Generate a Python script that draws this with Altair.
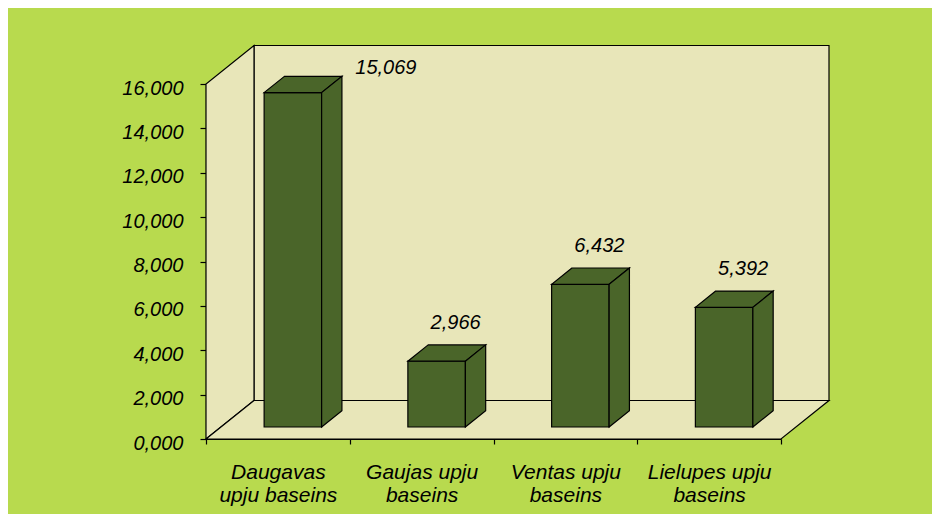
import json
import altair as alt
import pandas as pd

# ---- data ----
label_lines = [["Daugavas", "upju baseins"],
               ["Gaujas upju", "baseins"],
               ["Ventas upju", "baseins"],
               ["Lielupes upju", "baseins"]]
values = [15069, 2966, 6432, 5392]
y_ticks = [0, 2000, 4000, 6000, 8000, 10000, 12000, 14000, 16000]

# ---- styling / geometry constants (pixels, converted to data units) ----
W, H = 575, 355
N = len(values)
X_MAX, Y_MAX = N, y_ticks[-1]
kx, ky = X_MAX / W, Y_MAX / H
WALL_DX, WALL_DY = 48 * kx, 38.5 * ky
BAR_SHIFT_X, BAR_SHIFT_Y = 15 * kx, 12 * ky
BAR_DX, BAR_DY = 20.3 * kx, 16.3 * ky
BAR_HALF = 0.2

BG = "#b8da4e"
WALL = "#e8e6b9"
BAR = "#4a6529"
FONT = "Liberation Sans"

# ---- derived tables ----
back = pd.DataFrame({"x": [WALL_DX], "x2": [X_MAX + WALL_DX],
                     "y": [WALL_DY], "y2": [Y_MAX + WALL_DY]})
left_wall = pd.DataFrame({"g": [0, 0], "x": [0, WALL_DX],
                          "y": [0, WALL_DY], "y2": [Y_MAX, Y_MAX + WALL_DY]})
floor = pd.DataFrame({"g": [0, 0], "y": [0, WALL_DY],
                      "x": [0, WALL_DX], "x2": [X_MAX, X_MAX + WALL_DX]})

bars, tops, sides = [], [], []
for i, v in enumerate(values):
    cx = i + 0.5 + BAR_SHIFT_X
    x0, x1 = cx - BAR_HALF, cx + BAR_HALF
    y0, y1 = BAR_SHIFT_Y, v + BAR_SHIFT_Y
    bars.append({"i": i, "v": v, "cx": cx, "x0": x0, "x1": x1, "y0": y0, "y1": y1})
    tops += [{"g": i, "y": y1, "x": x0, "x2": x1},
             {"g": i, "y": y1 + BAR_DY, "x": x0 + BAR_DX, "x2": x1 + BAR_DX}]
    sides += [{"g": i, "x": x1, "y": y0, "y2": y1},
              {"g": i, "x": x1 + BAR_DX, "y": y0 + BAR_DY, "y2": y1 + BAR_DY}]
bars = pd.DataFrame(bars)
tops = pd.DataFrame(tops)
sides = pd.DataFrame(sides)

# ---- scales / axes ----
xs = alt.Scale(domain=[0, X_MAX], nice=False, zero=False)
ys = alt.Scale(domain=[0, Y_MAX], nice=False, zero=False)

x_expr = " : ".join(
    f"datum.value == {i + 0.5} ? {json.dumps(lines)}" for i, lines in enumerate(label_lines)
) + " : ''"

xaxis = alt.Axis(
    values=[k / 2 for k in range(2 * N + 1)],
    labelExpr=x_expr,
    tickOpacity={"condition": {"test": "datum.value % 1 != 0", "value": 0}, "value": 1},
    tickSize=5, tickColor="black", tickWidth=1.2,
    domainColor="black", domainWidth=1.2,
    labelPadding=17, labelLineHeight=23, labelBaseline="top",
    labelFont=FONT, labelFontStyle="italic", labelFontSize=21, labelColor="black",
    labelOverlap=False, labelFlush=False, grid=False, title=None,
)
yaxis = alt.Axis(
    values=y_ticks,
    labelExpr="replace(format(datum.value / 1000, '.3f'), '.', ',')",
    tickSize=6, tickColor="black", tickWidth=1.2,
    domainColor="black", domainWidth=1.2,
    labelPadding=17, labelOffset=4,
    labelFont=FONT, labelFontStyle="italic", labelFontSize=20, labelColor="black",
    labelOverlap=False, labelFlush=False, grid=False, title=None,
)


def X(f):
    return alt.X(f, type="quantitative", scale=xs, axis=xaxis, stack=None)


def Y(f):
    return alt.Y(f, type="quantitative", scale=ys, axis=yaxis, stack=None)


stroke = dict(stroke="black", strokeWidth=1.2, clip=False)

back_layer = alt.Chart(back).mark_rect(fill=WALL, **stroke).encode(
    x=X("x"), x2="x2", y=Y("y"), y2="y2")
left_layer = alt.Chart(left_wall).mark_area(fill=WALL, orient="vertical", **stroke).encode(
    x=X("x"), y=Y("y"), y2="y2", detail="g:N")
floor_layer = alt.Chart(floor).mark_area(fill=WALL, orient="horizontal", **stroke).encode(
    y=Y("y"), x=X("x"), x2="x2", detail="g:N")

front_layer = alt.Chart(bars).mark_rect(fill=BAR, **stroke).encode(
    x=X("x0"), x2="x1", y=Y("y0"), y2="y1")
top_layer = alt.Chart(tops).mark_area(fill=BAR, orient="horizontal", **stroke).encode(
    y=Y("y"), x=X("x"), x2="x2", detail="g:N")
side_layer = alt.Chart(sides).mark_area(fill=BAR, orient="vertical", **stroke).encode(
    x=X("x"), y=Y("y"), y2="y2", detail="g:N")

label_calc = "replace(format(datum.v / 1000, '.3f'), '.', ',')"
txt = dict(font=FONT, fontStyle="italic", fontSize=20, color="black",
           align="center", baseline="middle", clip=False)
labels_normal = alt.Chart(bars).transform_filter("datum.v <= 14000").transform_calculate(
    label=label_calc).mark_text(dx=19, dy=-38, **txt).encode(
    x=X("cx"), y=Y("y1"), text="label:N")
labels_high = alt.Chart(bars).transform_filter("datum.v > 14000").transform_calculate(
    label=label_calc).mark_text(dx=93, dy=-25, **txt).encode(
    x=X("cx"), y=Y("y1"), text="label:N")

chart = alt.layer(
    back_layer, left_layer, floor_layer,
    front_layer, top_layer, side_layer,
    labels_normal, labels_high,
).properties(
    width=W, height=H,
    padding={"left": 198, "top": 76, "right": 151, "bottom": 75},
    autosize=alt.AutoSizeParams(type="none"),
).configure(
    background=BG,
).configure_view(stroke=None)

chart.save("out.html", embed_options={"renderer": "svg", "actions": False})
